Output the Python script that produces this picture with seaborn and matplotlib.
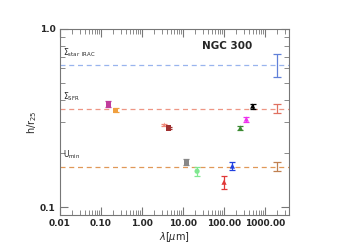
import matplotlib
matplotlib.use("Agg")
import matplotlib.pyplot as plt
import seaborn as sns
import numpy as np
import pandas as pd
from matplotlib.ticker import FixedLocator, NullFormatter, LogLocator

# data
bands = ["FUV", "NUV", "3.6", "4.5", "12", "24", "100", "160", "250", "350", "500"]
wavelength = [0.15, 0.23, 3.5, 4.5, 12, 22, 100, 160, 250, 350, 500]
h_r25 = [0.379, 0.35, 0.289, 0.278, 0.179, 0.159, 0.138, 0.17, 0.278, 0.312, 0.369]
h_err = [0.016, 0.010, 0.004, 0.004, 0.007, 0.009, 0.011, 0.009, 0.007, 0.010, 0.012]
colors = ["#c03c9c", "#f0a040", "#f08878", "#a03030", "#888888", "#80e890",
          "#e03838", "#2040e0", "#3a8a30", "#ee30ee", "#000000"]
markers = ["s", "s", "*", "s", "s", "o", "^", "^", "^", "^", "^"]

ref_names = ["$\\Sigma_{\\rm star\\;\\;IRAC}$", "$\\Sigma_{\\rm SFR}$", "$\\rm U_{min}$"]
ref_values = [0.63, 0.357, 0.169]
ref_low = [0.537, 0.337, 0.159]
ref_high = [0.723, 0.379, 0.179]
ref_x = [1950, 1950, 1950]
ref_line_colors = ["#98b4ee", "#ee9684", "#e09858"]
ref_bar_colors = ["#6080d8", "#e07060", "#c08050"]

xticks = [0.01, 0.1, 1, 10, 100, 1000]
xticklabels = ["0.01", "0.10", "1.00", "10.00", "100.00", "1000.00"]
yticks = [0.1, 1.0]
yticklabels = ["0.1", "1.0"]

sns.set_style("ticks")
plt.rcParams['font.family'] = ['DejaVu Sans']

fig = plt.figure(figsize=(3.47, 2.45), dpi=100)
ax = fig.add_axes([0.173, 0.122, 0.66, 0.76])
ax.set_xscale("log")
ax.set_yscale("log")

df = pd.DataFrame({"band": bands, "wl": wavelength, "h": h_r25, "err": h_err})

for i, row in df.iterrows():
    ax.errorbar(row["wl"], row["h"], yerr=row["err"], fmt="none",
                ecolor=colors[i], elinewidth=0.9, capsize=2.5, capthick=0.9, zorder=3)

sns.scatterplot(data=df, x="wl", y="h", hue="band", style="band",
                palette=dict(zip(bands, colors)), markers=dict(zip(bands, markers)),
                s=14, edgecolor="none", legend=False, ax=ax, zorder=4)

for name, v, lo, hi, xr, lc, bc in zip(ref_names, ref_values, ref_low, ref_high,
                                        ref_x, ref_line_colors, ref_bar_colors):
    ax.axhline(v, color=lc, ls=(0, (4, 3)), lw=0.9, zorder=1)
    ax.errorbar([xr], [v], yerr=[[v - lo], [hi - v]], fmt="none", ecolor=bc,
                elinewidth=0.9, capsize=3, capthick=0.9)
    ax.text(0.0115, v * 1.07, name, fontsize=5.5, va="bottom", ha="left")

ax.set_xlim(0.01, 3850)
ax.set_ylim(0.0902, 1.0)

ax.xaxis.set_major_locator(FixedLocator(xticks))
ax.set_xticklabels(xticklabels)
ax.yaxis.set_major_locator(FixedLocator(yticks))
ax.set_yticklabels(yticklabels)
ax.xaxis.set_minor_locator(LogLocator(base=10, subs=np.arange(2, 10)))
ax.xaxis.set_minor_formatter(NullFormatter())
ax.yaxis.set_minor_locator(FixedLocator([0.2, 0.3, 0.4, 0.5, 0.6, 0.7, 0.8, 0.9]))
ax.yaxis.set_minor_formatter(NullFormatter())

ax.tick_params(which="both", direction="in", top=True, right=True, color="#777777",
               labelsize=6.5, pad=3)
ax.tick_params(which="major", length=6, width=0.8)
ax.tick_params(which="minor", length=3.5, width=0.6)
for lab in ax.get_xticklabels() + ax.get_yticklabels():
    lab.set_fontweight("bold")
for sp in ax.spines.values():
    sp.set_color("#777777")
    sp.set_linewidth(0.8)

ax.set_xlabel("$\\lambda[\\mu$m]", fontsize=7, labelpad=1)
ax.set_ylabel("h/r$_{25}$", fontsize=7, labelpad=1)
ax.text(0.73, 0.91, "NGC 300", transform=ax.transAxes, fontsize=7.5,
        fontweight="bold", ha="center", va="center")

fig.savefig("out.png", dpi=100)
